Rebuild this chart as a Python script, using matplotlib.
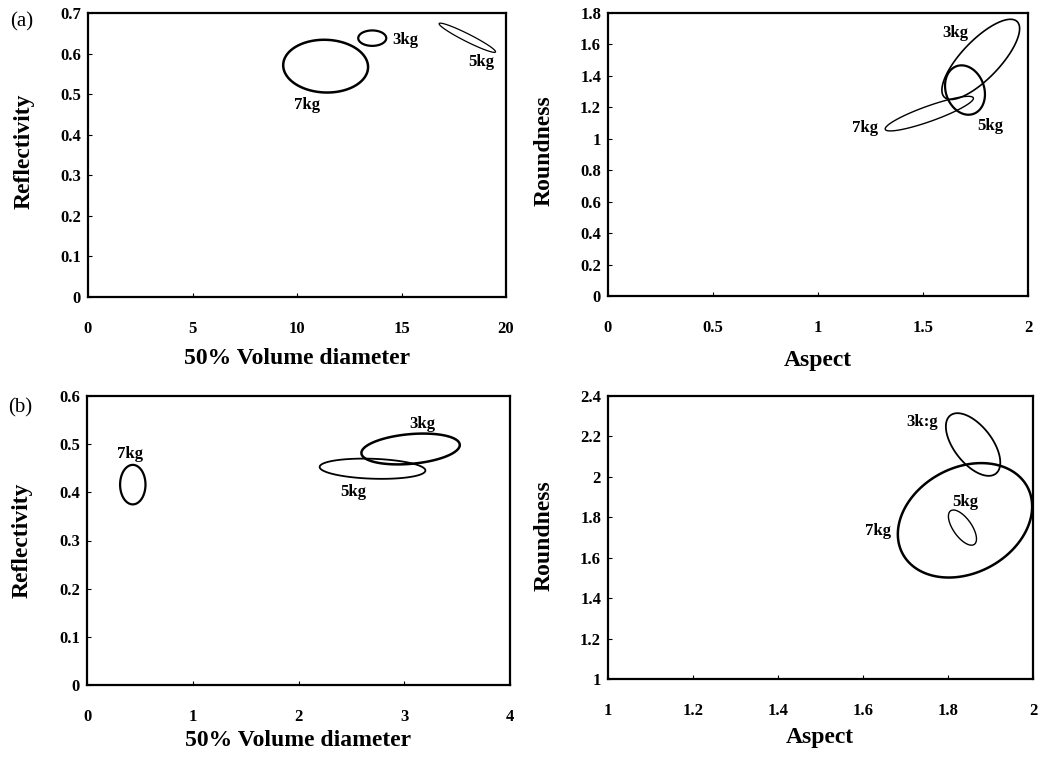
import matplotlib.pyplot as plt
import numpy as np

plt.rcParams['font.family'] = ['Liberation Serif', 'DejaVu Serif']

labels = ['3kg', '5kg', '7kg']

# each ellipse: centre x, centre y, half x-range, half y-range, phase (deg)
# phase 90 = upright ellipse, <90 leans up-right, >90 leans down-right
a1_cx = [13.6, 18.15, 11.37]
a1_cy = [0.638, 0.639, 0.569]
a1_rx = [0.67, 1.35, 2.03]
a1_ry = [0.019, 0.036, 0.065]
a1_ph = [90, 163, 92]
a1_tx = [15.2, 18.8, 10.5]
a1_ty = [0.633, 0.58, 0.473]

a2_cx = [1.775, 1.70, 1.53]
a2_cy = [1.505, 1.31, 1.16]
a2_rx = [0.185, 0.095, 0.21]
a2_ry = [0.255, 0.157, 0.11]
a2_ph = [40, 100, 28]
a2_tx = [1.652, 1.82, 1.224]
a2_ty = [1.671, 1.081, 1.07]

b1_cx = [3.06, 2.70, 0.433]
b1_cy = [0.49, 0.449, 0.416]
b1_rx = [0.465, 0.50, 0.12]
b1_ry = [0.032, 0.021, 0.041]
b1_ph = [75, 100, 90]
b1_tx = [3.17, 2.52, 0.41]
b1_ty = [0.541, 0.40, 0.48]

b2_cx = [1.859, 1.834, 1.84]
b2_cy = [2.16, 1.749, 1.785]
b2_rx = [0.064, 0.033, 0.158]
b2_ry = [0.155, 0.087, 0.283]
b2_ph = [125, 130, 76]
b2_tx = [1.738, 1.84, 1.635]
b2_ty = [2.27, 1.877, 1.73]
b2_labels = ['3k:g', '5kg', '7kg']

W, H = 1039, 762
fig = plt.figure(figsize=(W/100, H/100), dpi=100)


def px_axes(l, t, r, b):
    return fig.add_axes([l/W, 1-b/H, (r-l)/W, (b-t)/H])


def draw(ax, cx, cy, rx, ry, ph, tx, ty, labs, lw):
    t = np.linspace(0, 2*np.pi, 300)
    for i in range(len(cx)):
        x = cx[i] + rx[i]*np.cos(t)
        y = cy[i] + ry[i]*np.cos(t - np.radians(ph[i]))
        ax.fill(x, y, fill=False, edgecolor='black', lw=lw[i])
        ax.text(tx[i], ty[i], labs[i], fontsize=12, fontweight='bold', ha='center', va='center')


def style(ax, xlim, ylim, xticks, yticks, xtl, ytl):
    ax.set_xlim(xlim)
    ax.set_ylim(ylim)
    ax.set_xticks(xticks)
    ax.set_yticks(yticks)
    ax.set_xticklabels(xtl, fontsize=12, fontweight='bold')
    ax.set_yticklabels(ytl, fontsize=12, fontweight='bold')
    ax.tick_params(axis='x', direction='in', length=3, pad=17)
    ax.tick_params(axis='y', direction='in', length=3, pad=5)
    for s in ax.spines.values():
        s.set_linewidth(1.6)


ax1 = px_axes(88, 13, 506, 297)
draw(ax1, a1_cx, a1_cy, a1_rx, a1_ry, a1_ph, a1_tx, a1_ty, labels, [1.6, 0.9, 1.8])
style(ax1, (0, 20), (0, 0.7), [0, 5, 10, 15, 20], np.arange(0, 0.71, 0.1),
      ['0', '5', '10', '15', '20'], ['0', '0.1', '0.2', '0.3', '0.4', '0.5', '0.6', '0.7'])

ax2 = px_axes(608, 13, 1028, 296)
draw(ax2, a2_cx, a2_cy, a2_rx, a2_ry, a2_ph, a2_tx, a2_ty, labels, [1.2, 1.6, 1.0])
style(ax2, (0, 2), (0, 1.8), [0, 0.5, 1, 1.5, 2], np.arange(0, 1.81, 0.2),
      ['0', '0.5', '1', '1.5', '2'], ['0', '0.2', '0.4', '0.6', '0.8', '1', '1.2', '1.4', '1.6', '1.8'])

ax3 = px_axes(87, 396, 510, 685)
draw(ax3, b1_cx, b1_cy, b1_rx, b1_ry, b1_ph, b1_tx, b1_ty, labels, [1.8, 1.3, 1.6])
style(ax3, (0, 4), (0, 0.6), [0, 1, 2, 3, 4], np.arange(0, 0.61, 0.1),
      ['0', '1', '2', '3', '4'], ['0', '0.1', '0.2', '0.3', '0.4', '0.5', '0.6'])

ax4 = px_axes(608, 396, 1033, 679)
draw(ax4, b2_cx, b2_cy, b2_rx, b2_ry, b2_ph, b2_tx, b2_ty, b2_labels, [1.3, 1.0, 1.8])
style(ax4, (1, 2), (1, 2.4), [1, 1.2, 1.4, 1.6, 1.8, 2], np.arange(1, 2.41, 0.2),
      ['1', '1.2', '1.4', '1.6', '1.8', '2'], ['1', '1.2', '1.4', '1.6', '1.8', '2', '2.2', '2.4'])

# axis titles
lab = dict(fontsize=17, fontweight='bold', ha='center', va='center')
fig.text(297/W, 1-358/H, '50% Volume diameter', **lab)
fig.text(818/W, 1-360/H, 'Aspect', **lab)
fig.text(298/W, 1-740/H, '50% Volume diameter', **lab)
fig.text(820/W, 1-738/H, 'Aspect', **lab)
fig.text(24/W, 1-151/H, 'Reflectivity', rotation=90, **lab)
fig.text(544/W, 1-151/H, 'Roundness', rotation=90, **lab)
fig.text(22/W, 1-540/H, 'Reflectivity', rotation=90, **lab)
fig.text(544/W, 1-536/H, 'Roundness', rotation=90, **lab)

fig.text(22/W, 1-22/H, '(a)', fontsize=15, ha='center', va='center')
fig.text(20/W, 1-408/H, '(b)', fontsize=15, ha='center', va='center')

plt.savefig('out.png', dpi=100)
